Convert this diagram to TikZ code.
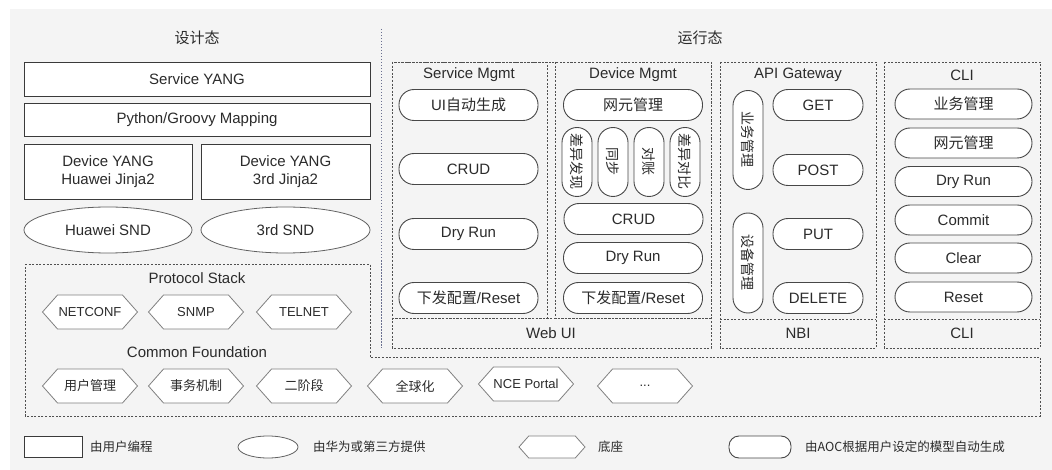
\documentclass[tikz,border=0pt]{standalone}
\usepackage{fontspec}
\setmainfont{Liberation Sans}
\newfontfamily\cjk{Noto Sans CJK SC}
\usetikzlibrary{shapes.geometric,shapes.symbols}
\definecolor{bgcol}{HTML}{F4F4F4}
\definecolor{txtcol}{HTML}{2B2B2B}
\definecolor{boxline}{HTML}{3A3A3A}
\definecolor{pillline}{HTML}{474747}
\definecolor{hexline}{HTML}{808080}
\definecolor{dashcol}{HTML}{505050}
\definecolor{dotcol}{HTML}{6A7090}
\newcommand\szbig{\fontsize{15}{17.5}\selectfont}
\newcommand\szhex{\fontsize{13}{15}\selectfont}
\newcommand\szleg{\fontsize{12.5}{14}\selectfont}
\tikzset{
  lbl/.style={text=txtcol, font=\szbig, inner sep=0pt},
  box/.style={draw=boxline, fill=white, line width=0.8pt, text=txtcol, font=\szbig, align=center, inner sep=0pt},
  oval/.style={ellipse, draw=boxline!80, fill=white, line width=0.8pt, text=txtcol, font=\szbig, inner sep=0pt},
  pill/.style={draw=pillline, fill=white, line width=0.9pt, rounded corners=15pt, text=txtcol, font=\szbig, inner sep=0pt, minimum height=31pt},
  vpill/.style={pill, rotate=-90, minimum height=30pt},
  hexa/.style={signal, signal to=west and east, signal pointer angle=97, draw=hexline, fill=white, line width=0.8pt, text=txtcol, font=\szhex, inner sep=0pt, minimum width=95pt, minimum height=34pt},
  grp/.style={draw=dashcol, line width=0.7pt, dash pattern=on 2pt off 1.6pt},
  legtxt/.style={anchor=west, text=txtcol, font=\szleg\cjk, inner sep=0pt},
}
\begin{document}
\begin{tikzpicture}[x=1pt,y=-1pt]
\useasboundingbox (0,0) rectangle (1052,470);
\fill[bgcol] (10,9) rectangle (1052,470);

% ---- design side ----
\node[lbl] (dsgn) at (197,38) {\cjk 设计态};
\node[box, minimum width=346pt, minimum height=34pt] (svcyang) at (197,79) {Service YANG};
\node[box, minimum width=346pt, minimum height=33pt] (pyg) at (197,119.5) {Python/Groovy Mapping};
\node[box, minimum width=168pt, minimum height=55pt] (devh) at (108,171.5) {Device YANG\\Huawei Jinja2};
\node[box, minimum width=169pt, minimum height=55pt] (devt) at (285.5,171.5) {Device YANG\\3rd Jinja2};
\node[oval, minimum width=168pt, minimum height=46pt] (hsnd) at (108,230) {Huawei SND};
\node[oval, minimum width=169pt, minimum height=46pt] (tsnd) at (285.5,230) {3rd SND};

% ---- bottom region ----
\draw[grp] (25,264) -- (370,264) -- (370,357) -- (1040,357) -- (1040,416) -- (25,416) -- cycle;
\node[lbl] (pstack) at (197,278) {Protocol Stack};
\node[hexa] (netconf) at (90,312) {NETCONF};
\node[hexa] (snmp) at (196,312) {SNMP};
\node[hexa] (telnet) at (304,312) {TELNET};
\node[lbl] (cfound) at (197,352) {Common Foundation};
\node[hexa] (usr) at (90,386) {\cjk 用户管理};
\node[hexa] (txn) at (196,386) {\cjk 事务机制};
\node[hexa] (twop) at (304,386) {\cjk 二阶段};
\node[hexa] (glob) at (415,386) {\cjk 全球化};
\node[hexa] (nce) at (526,384) {NCE Portal};
\node[hexa] (more) at (645,386) {...};

% ---- divider ----
\draw[dotcol, line width=0.8pt, dash pattern=on 1.5pt off 1.5pt] (381,29) -- (381,348);

% ---- runtime side ----
\node[lbl] (runt) at (700,38) {\cjk 运行态};

% Web UI group
\draw[grp] (392,62) rectangle (711,348);
\draw[grp] (392,62) rectangle (547,318);
\draw[grp] (555,62) rectangle (711,318);
\draw[grp] (392,318) -- (711,318);
\node[lbl] (svcm) at (469,75) {Service Mgmt};
\node[lbl] (devm) at (633,75) {Device Mgmt};
\node[lbl] (webui) at (551,333) {Web UI};

\node[pill, minimum width=139pt] (uigen) at (468.5,105) {UI{\cjk 自动生成}};
\node[pill, minimum width=139pt] (scrud) at (468.5,169) {CRUD};
\node[pill, minimum width=139pt] (sdry) at (468.5,234) {Dry Run};
\node[pill, minimum width=139pt] (sreset) at (468.5,298) {{\cjk 下发配置}/Reset};

\node[pill, minimum width=139pt] (dne) at (633,105) {\cjk 网元管理};
\node[vpill, minimum width=69pt, font=\fontsize{14}{16}\selectfont] (ddisc) at (577,162) {\cjk 差异发现};
\node[vpill, minimum width=69pt, font=\fontsize{14}{16}\selectfont] (dsync) at (613,162) {\cjk 同步};
\node[vpill, minimum width=69pt, font=\fontsize{14}{16}\selectfont] (drec) at (649,162) {\cjk 对账};
\node[vpill, minimum width=69pt, font=\fontsize{14}{16}\selectfont] (dcmp) at (685,162) {\cjk 差异对比};
\node[pill, minimum width=139pt] (dcrud) at (633.5,219) {CRUD};
\node[pill, minimum width=139pt] (ddry) at (633,258) {Dry Run};
\node[pill, minimum width=139pt] (dreset) at (633,298) {{\cjk 下发配置}/Reset};

% NBI group
\draw[grp] (720,62) rectangle (876,348);
\draw[grp] (720,319) -- (876,319);
\node[lbl] (apigw) at (798,75) {API Gateway};
\node[lbl] (nbi) at (798,333) {NBI};
\node[vpill, minimum width=99pt, font=\fontsize{14}{16}\selectfont] (abiz) at (748,140) {\cjk 业务管理};
\node[vpill, minimum width=100pt, font=\fontsize{14}{16}\selectfont] (adev) at (748,263) {\cjk 设备管理};
\node[pill, minimum width=90pt] (get) at (818,105) {GET};
\node[pill, minimum width=90pt] (post) at (818,170) {POST};
\node[pill, minimum width=90pt] (put) at (818,234) {PUT};
\node[pill, minimum width=90pt] (del) at (818,298) {DELETE};

% CLI group
\draw[grp] (884,62) rectangle (1040,348);
\draw[grp] (884,319) -- (1040,319);
\node[lbl] (clit) at (962,75) {CLI};
\node[lbl] (clib) at (962,333) {CLI};
\node[pill, minimum width=137pt, minimum height=30pt] (cbiz) at (963.5,104) {\cjk 业务管理};
\node[pill, minimum width=137pt, minimum height=30pt] (cne) at (963.5,143) {\cjk 网元管理};
\node[pill, minimum width=137pt, minimum height=30pt] (cdry) at (963.5,181.5) {Dry Run};
\node[pill, minimum width=137pt, minimum height=30pt] (ccom) at (963.5,220) {Commit};
\node[pill, minimum width=137pt, minimum height=30pt] (cclr) at (963.5,258) {Clear};
\node[pill, minimum width=137pt, minimum height=30pt] (crst) at (963.5,297) {Reset};

% ---- legend ----
\node[box, minimum width=58pt, minimum height=21pt] (lgbox) at (53,446.5) {};
\node[legtxt] (lgboxt) at (90,447) {由用户编程};
\node[oval, minimum width=60pt, minimum height=22pt] (lgov) at (268,447) {};
\node[legtxt] (lgovt) at (313,447) {由华为或第三方提供};
\node[hexa, minimum width=66pt, minimum height=22pt] (lghex) at (552,447) {};
\node[legtxt] (lghext) at (598,447) {底座};
\node[pill, minimum width=62pt, minimum height=22pt, rounded corners=10pt] (lgpill) at (760,447) {};
\node[legtxt] (lgpillt) at (805,447) {由AOC根据用户设定的模型自动生成};
\end{tikzpicture}
\end{document}
